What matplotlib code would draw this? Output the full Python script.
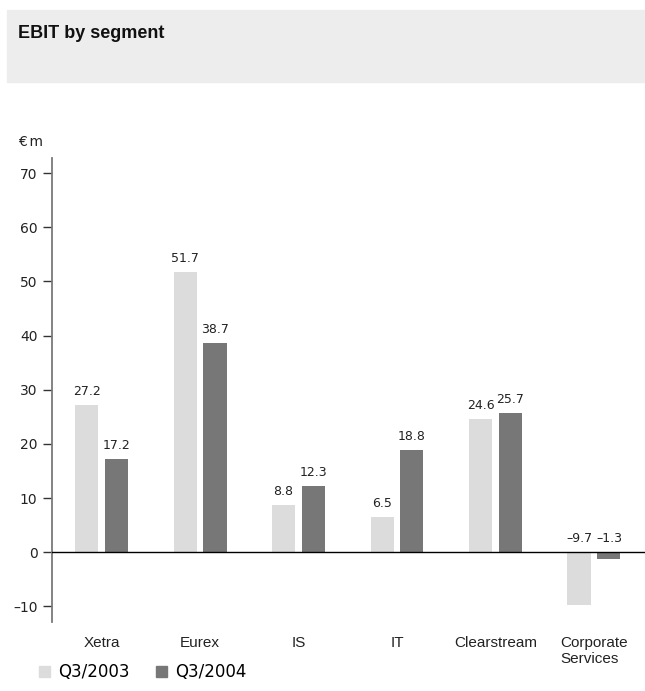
import matplotlib
matplotlib.use('Agg')
import matplotlib.pyplot as plt
import numpy as np
from matplotlib.patches import Patch, Rectangle
from matplotlib.ticker import FuncFormatter

segments = ['Xetra', 'Eurex', 'IS', 'IT', 'Clearstream', 'Corporate\nServices']
q3_2003 = [27.2, 51.7, 8.8, 6.5, 24.6, -9.7]
q3_2004 = [17.2, 38.7, 12.3, 18.8, 25.7, -1.3]
series_names = ['Q3/2003', 'Q3/2004']

light = '#dcdcdc'
dark = '#777777'

W, H = 645, 691
fig = plt.figure(figsize=(W / 100, H / 100), dpi=100)

# grey title band
fig.patches.append(Rectangle((7 / W, 1 - 82 / H), 638 / W, 72 / H,
                             transform=fig.transFigure, color='#ededed', zorder=0))
fig.text(18 / W, 1 - 38 / H, 'EBIT by segment', family='Liberation Sans',
         weight='bold', fontsize=13, va='baseline', color='#111111')
fig.text(18 / W, 1 - 146 / H, '€\u2009m', fontsize=10, va='baseline', color='#222222')

ax = fig.add_axes([52 / W, 1 - 622 / H, 593 / W, 464 / H])

x = np.arange(len(segments))
off = 0.152
w = 0.234
ax.bar(x - off, q3_2003, width=w, color=light, zorder=2)
ax.bar(x + off, q3_2004, width=w, color=dark, zorder=2)

def fmt(v):
    return f'{v:.1f}'.replace('-', '\u2013')

for xs, vals in ((x - off, q3_2003), (x + off, q3_2004)):
    for xi, v in zip(xs, vals):
        ax.annotate(fmt(v), (xi, max(v, 0)), xytext=(0, 5), textcoords='offset points',
                    ha='center', va='bottom', fontsize=9, color='#222222')

ax.axhline(0, color='black', lw=1, zorder=3)

ax.set_xlim(-0.503, 5.518)
ax.set_ylim(-12.9, 72.8)
ax.set_yticks(np.arange(-10, 71, 10))
ax.yaxis.set_major_formatter(FuncFormatter(lambda v, p: f'{v:.0f}'.replace('-', '\u2013')))
ax.tick_params(axis='y', length=6.5, width=1, color='#333333', labelsize=10,
               labelcolor='#222222', pad=4)

ax.set_xticks(x)
ax.set_xticklabels(segments, family='Liberation Sans', fontsize=11, color='#222222')
ax.tick_params(axis='x', length=0, pad=10)
for lbl in ax.get_xticklabels():
    lbl.set_multialignment('left')

for s in ['top', 'right', 'bottom']:
    ax.spines[s].set_visible(False)
ax.spines['left'].set_color('#7a7a7a')
ax.spines['left'].set_linewidth(1.3)

handles = [Patch(color=light), Patch(color=dark)]
fig.legend(handles, series_names, loc='lower left', ncol=2, frameon=False,
           bbox_to_anchor=(29 / W, 0.0), fontsize=12, handlelength=0.65,
           handleheight=0.65, handletextpad=0.5, columnspacing=1.6, borderpad=0.1)

fig.savefig('out.png', dpi=100)
